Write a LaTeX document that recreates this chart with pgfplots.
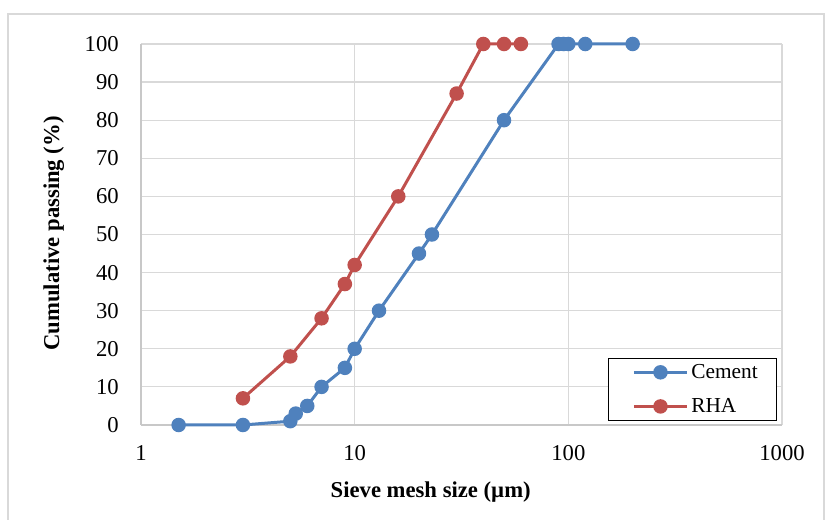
\documentclass[border=0pt]{standalone}
\usepackage{pgfplots}
\pgfplotsset{compat=1.18}
\usepackage{fontspec}
\setmainfont{Liberation Serif}
\definecolor{cblue}{RGB}{79,129,189}
\definecolor{cred}{RGB}{192,80,77}
\definecolor{gridc}{RGB}{217,217,217}
\definecolor{axc}{RGB}{200,200,200}
\begin{document}
\begin{tikzpicture}
\useasboundingbox (-105.75pt,-71.25pt) rectangle (513pt,318.75pt);
\draw[gridc, line width=1pt] (-99.75pt,-72pt) -- (-99.75pt,308.25pt) -- (512.25pt,308.25pt) -- (512.25pt,-72pt);
\begin{axis}[
  scale only axis,
  width=480.75pt, height=285.75pt,
  xmode=log, log basis x=10,
  xmin=1, xmax=1000, ymin=0, ymax=100,
  xtick={1,10,100,1000},
  xticklabels={1,10,100,1000},
  ytick={0,10,...,100},
  minor xtick={},
  ymajorgrids, xmajorgrids,
  grid style={gridc, line width=0.9pt},
  axis x line*=bottom, axis y line*=left,
  axis line style={axc, line width=1pt, -},
  major tick length=0pt,
  /pgf/number format/assume math mode=true,
  tick label style={font=\fontsize{17}{20}\selectfont, inner sep=0pt},
  xticklabel shift=15pt,
  yticklabel shift=16.5pt,
  xlabel={\textbf{Sieve mesh size (µm)}},
  ylabel={\textbf{Cumulative passing (\%)}},
  label style={font=\fontsize{17}{20}\selectfont},
  xlabel style={at={(axis description cs:0.452,-0.176)}, anchor=center},
  ylabel style={at={(axis description cs:-0.136,0.503)}, anchor=center, rotate=0},
  legend style={at={(rel axis cs:0.992,0.0105)}, anchor=south east, draw=black, line width=0.8pt,
    font=\fontsize{16}{19}\selectfont, inner xsep=12pt, inner ysep=2.5pt, row sep=9.5pt,
    cells={anchor=west}},
  legend image code/.code={\path (0pt,0pt); \draw[#1, mark repeat=2, mark phase=2] plot coordinates {(6pt,0pt) (26pt,0pt) (46pt,0pt)};},
  clip=false,
]
\addplot[cblue, line width=2.25pt, mark=*, mark size=4.3pt, mark options={solid}] coordinates {
(1.5,0) (3,0) (5,1) (5.3,3) (6,5) (7,10) (9,15) (10,20) (13,30) (20,45) (23,50) (50,80) (90,100) (95,100) (100,100) (120,100) (200,100)
};
\addlegendentry{Cement}
\addplot[cred, line width=2.25pt, mark=*, mark size=4.3pt, mark options={solid}] coordinates {
(3,7) (5,18) (7,28) (9,37) (10,42) (16,60) (30,87) (40,100) (50,100) (60,100)
};
\addlegendentry{RHA}
\end{axis}
\end{tikzpicture}
\end{document}
